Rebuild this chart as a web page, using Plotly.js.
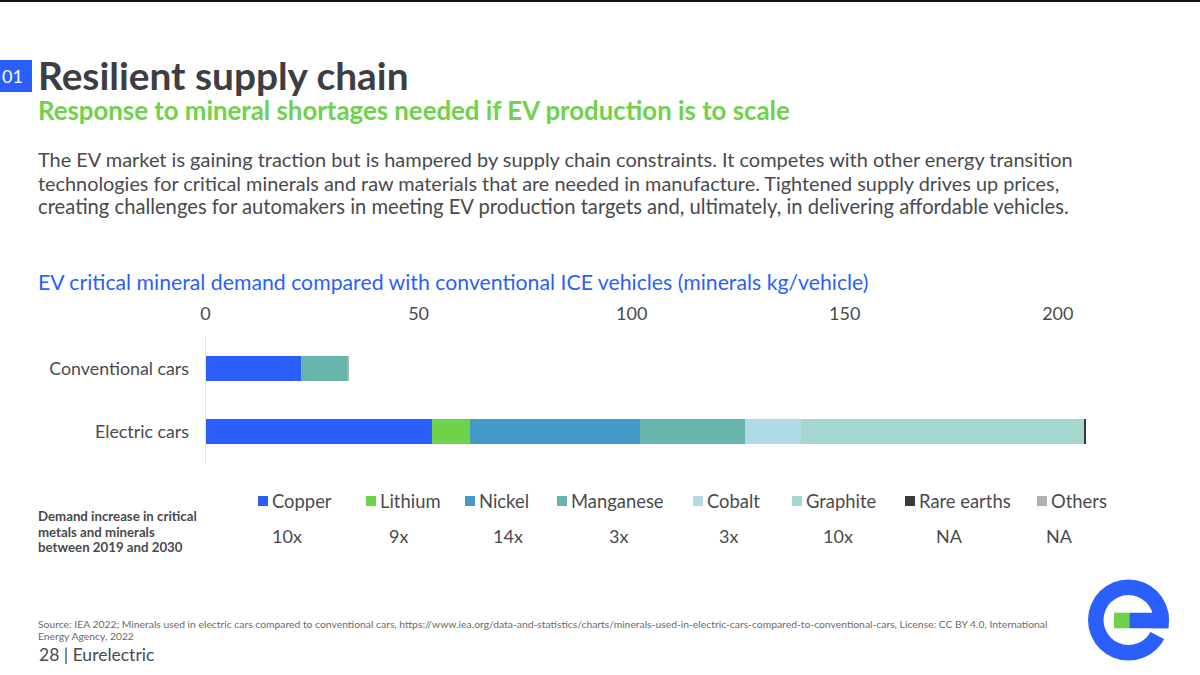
<!DOCTYPE html>
<html><head><meta charset="utf-8">
<script src="https://cdn.plot.ly/plotly-3.0.1.min.js"></script>
<style>html,body{margin:0;padding:0;background:#fff}#c{width:1200px;height:675px}</style>
</head><body><div id="c"></div>
<script>
const categories = ["Conventional cars", "Electric cars"];
const minerals = ["Copper", "Lithium", "Nickel", "Manganese", "Cobalt", "Graphite", "Rare earths", "Others"];
const conventionalKg = [22.3, 0, 0, 11.0, 0, 0, 0, 0.4];
const electricKg = [53.1, 8.9, 39.9, 24.6, 13.3, 66.3, 0.5, 0.1];
const demandIncrease = ["10x", "9x", "14x", "3x", "3x", "10x", "NA", "NA"];
const xTicks = [0, 50, 100, 150, 200];

const colors = ["#2b5ffb", "#6fd24a", "#4499c6", "#66b6ae", "#b2d9e8", "#a5d6cf", "#3a3a3c", "#b0b0b0"];
const swatchX = [258, 366, 465, 557, 693, 792, 905, 1037];
const valueX = [287, 398, 508, 618, 728, 838, 949, 1059];
const FONT = "Lato, 'Noto Sans', sans-serif";
const px = x => x / 1200, py = y => 1 - y / 675;

const traces = minerals.map((m, i) => ({
  type: "bar", orientation: "h", name: m,
  y: categories, x: [conventionalKg[i], electricKg[i]],
  marker: {color: colors[i], line: {width: 0}},
  hovertemplate: "%{y}<br>" + m + ": %{x} kg<extra></extra>"
}));

function text(t, x, y, size, color, opts) {
  return Object.assign({text: t, xref: "paper", yref: "paper", x: px(x), y: py(y),
    xanchor: "left", yanchor: "middle", align: "left", showarrow: false,
    font: {family: FONT, size: size, color: color}}, opts || {});
}
const grey = "#4a4a4d", blue = "#2b5ffb", green = "#6fd24a";
const L = 36;
const annotations = [
  text("01", 0, 76, 18, "#ffffff"),
  text("<b>Resilient supply chain</b>", L, 75, 38.8, "#3e3e42"),
  text("<b>Response to mineral shortages needed if EV production is to scale</b>", L, 109.5, 25.8, green),
  text("The EV market is gaining traction but is hampered by supply chain constraints. It competes with other energy transition", L, 159, 19.95, grey),
  text("technologies for critical minerals and raw materials that are needed in manufacture. Tightened supply drives up prices,", L, 182.5, 19.85, grey),
  text("creating challenges for automakers in meeting EV production targets and, ultimately, in delivering affordable vehicles.", L, 206, 20.2, grey),
  text("EV critical mineral demand compared with conventional ICE vehicles (minerals kg/vehicle)", L, 281.5, 21.25, blue),
  text("<b>Demand increase in critical</b>", L, 516, 13.25, grey),
  text("<b>metals and minerals</b>", L, 531.5, 13.25, grey),
  text("<b>between 2019 and 2030</b>", L, 547, 13.25, grey),
  text("Source: IEA 2022; Minerals used in electric cars compared to conventional cars, https://www.iea.org/data-and-statistics/charts/minerals-used-in-electric-cars-compared-to-conventional-cars, License: CC BY 4.0, International", L, 624, 10.35, "#6a6a6d"),
  text("Energy Agency, 2022", L, 636, 10.35, "#6a6a6d"),
  text("28 | Eurelectric", L + 1, 654, 17.5, grey)
];
const shapes = [
  {type: "rect", xref: "paper", yref: "paper", x0: px(0), x1: px(1200), y0: py(0), y1: py(2), fillcolor: "#111", line: {width: 0}},
  {type: "rect", xref: "paper", yref: "paper", x0: px(0), x1: px(32), y0: py(60), y1: py(92), fillcolor: blue, line: {width: 0}},
  // logo: ring, counter, wedge and bar
  {type: "circle", xref: "paper", yref: "paper", x0: px(1088), x1: px(1169), y0: py(579.5), y1: py(660.5), fillcolor: blue, line: {width: 0}},
  {type: "circle", xref: "paper", yref: "paper", x0: px(1103.5), x1: px(1153.5), y0: py(595), y1: py(645), fillcolor: "#fff", line: {width: 0}},
  {type: "path", xref: "paper", yref: "paper", fillcolor: "#fff", line: {width: 0},
    path: `M ${px(1130)} ${py(628.3)} L ${px(1175)} ${py(628.3)} L ${px(1175)} ${py(644.7)} L ${px(1150)} ${py(631.7)} Z`},
  {type: "rect", xref: "paper", yref: "paper", x0: px(1114), x1: px(1129.3), y0: py(612.7), y1: py(628.3), fillcolor: green, line: {width: 0}},
  {type: "rect", xref: "paper", yref: "paper", x0: px(1129.3), x1: px(1168.5), y0: py(612.7), y1: py(628.3), fillcolor: blue, line: {width: 0}}
];
minerals.forEach((m, i) => {
  shapes.push({type: "rect", xref: "paper", yref: "paper", x0: px(swatchX[i]), x1: px(swatchX[i] + 10), y0: py(496), y1: py(506), fillcolor: colors[i], line: {width: 0}});
  annotations.push(text(m, swatchX[i] + 12, 500.5, 18.4, grey));
  annotations.push(text(demandIncrease[i], valueX[i], 535.5, 18, grey, {xanchor: "center"}));
});

Plotly.newPlot("c", traces, {
  width: 1200, height: 675, margin: {l: 0, r: 0, t: 0, b: 0, pad: 0},
  paper_bgcolor: "#fff", plot_bgcolor: "#fff", barmode: "stack", bargap: 0.6, showlegend: false,
  xaxis: {domain: [px(205.5), px(1100)], range: [0, 209.9], side: "top", tickvals: xTicks, ticktext: xTicks.map(String),
    ticks: "outside", ticklen: 9, tickcolor: "rgba(0,0,0,0)", showgrid: false, zeroline: false, showline: false,
    tickfont: {family: FONT, size: 18, color: grey}},
  yaxis: {domain: [py(463), py(337)], autorange: "reversed", type: "category", ticks: "outside", ticklen: 12, tickcolor: "rgba(0,0,0,0)",
    showgrid: false, zeroline: false, showline: true, linecolor: "#e4e4e4", linewidth: 1,
    tickfont: {family: FONT, size: 17.8, color: grey}},
  annotations, shapes
}, {displayModeBar: false, staticPlot: true});
</script></body></html>
